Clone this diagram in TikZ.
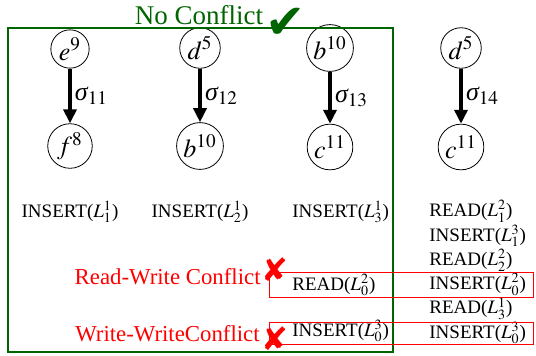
\documentclass[tikz,border=0pt]{standalone}
\usepackage{mathptmx}
\usepackage[no-math]{fontspec}
\setmainfont{Liberation Serif}
\newfontfamily\dingfont{DejaVu Sans}
\usetikzlibrary{arrows.meta,positioning,calc}
\definecolor{okgreen}{RGB}{0,100,0}
\newcommand{\sg}[1]{{\itshape σ}$_{#1}$}

\begin{document}
\begin{tikzpicture}[x=0.5pt,y=-0.5pt,
  state/.style={circle,draw,thin,inner sep=1.2pt,minimum size=17pt,font=\fontsize{13}{14}\selectfont},
  trans/.style={-{Triangle[length=7pt,width=6.5pt]},line width=2pt},
  sig/.style={right,inner sep=1.5pt,font=\fontsize{13}{14}\selectfont},
  op/.style={inner sep=0pt,font=\fontsize{9.5}{11}\selectfont},
  conflict/.style={red,anchor=east,inner sep=0pt,font=\fontsize{11.4}{13}\selectfont},
  conflictbox/.style={draw=red,line width=0.5pt},
  crossmark/.style={red,inner sep=0pt,font=\dingfont\fontsize{16}{17}\selectfont}]
  \useasboundingbox (0,0) rectangle (536,355);

  % transactions
  \node[state] (e9) at (70,49) {$e^9$};
  \node[state] (f8) at (70,146) {$f^8$};
  \node[state] (d5a) at (200,48) {$d^5$};
  \node[state] (b10b) at (200,146) {$b^{10}$};
  \node[state] (b10a) at (330,48) {$b^{10}$};
  \node[state] (c11a) at (330,147) {$c^{11}$};
  \node[state] (d5b) at (461,48) {$d^5$};
  \node[state] (c11b) at (461,147) {$c^{11}$};
  \draw[trans] (e9) -- node[sig] {\sg{11}} (f8);
  \draw[trans] (d5a) -- node[sig] {\sg{12}} (b10b);
  \draw[trans] (b10a) -- node[sig] {\sg{13}} (c11a);
  \draw[trans] (d5b) -- node[sig] {\sg{14}} (c11b);

  % operations
  \node[op] (ins1) at (70,212) {INSERT($L^1_1$)};
  \node[op] (ins2) at (200,212) {INSERT($L^1_2$)};
  \node[op,anchor=west] (ins3) at (292,212) {INSERT($L^1_3$)};
  \node[op,anchor=west] (rd02) at (292,285) {READ($L^2_0$)};
  \node[op,anchor=west] (in03a) at (292,331) {INSERT($L^3_0$)};
  \foreach \txt [count=\i from 0] in {READ($L^2_1$),INSERT($L^3_1$),READ($L^2_2$),%
      INSERT($L^2_0$),READ($L^1_3$),INSERT($L^3_0$)}
    \node[op,anchor=west] (r\i) at (429,211.5+24.3*\i) {\txt};

  % no conflict frame
  \draw[okgreen,line width=1pt] (8,28) rectangle (393,352);
  \node[okgreen,inner sep=0pt,font=\fontsize{13.5}{15}\selectfont] (nc) at (199,15) {No Conflict};
  \node[okgreen,inner sep=0pt,font=\dingfont\fontsize{24}{25}\selectfont] (ok) at (286,23) {✔};

  % conflicts
  \draw[conflictbox] ([xshift=-11.5pt,yshift=-6pt]rd02.west) rectangle ([xshift=3.5pt,yshift=6pt]r3.east);
  \draw[conflictbox] ([xshift=-11.5pt,yshift=-6.5pt]in03a.west) rectangle ([xshift=3.5pt,yshift=5.5pt]r5.east);
  \node[conflict] (rw) at (261,277) {Read-Write Conflict};
  \node[conflict] (ww) at (260,334) {Write-WriteConflict};
  \node[crossmark] (x1) at (275,270) {✘};
  \node[crossmark] (x2) at (275,339) {✘};
\end{tikzpicture}
\end{document}
